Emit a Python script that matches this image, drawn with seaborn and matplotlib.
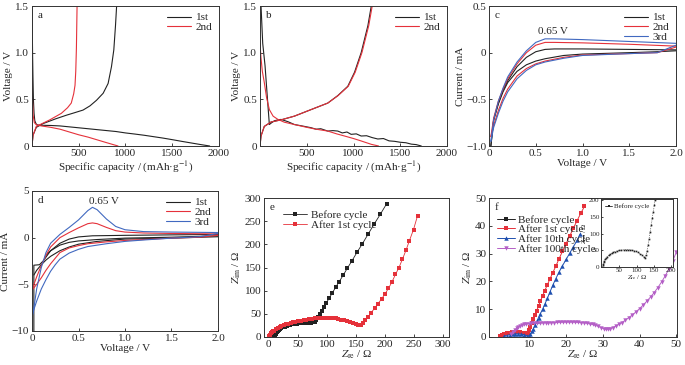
import matplotlib
matplotlib.use("Agg")
import matplotlib.pyplot as plt
from matplotlib.lines import Line2D
import seaborn as sns

# ---- panel a: charge/discharge profiles ----
a_dis1_x = [0, 3, 6, 10, 15, 22, 30, 45, 60, 100, 200, 300, 400, 500, 600, 700, 800, 900, 1000,
            1100, 1200, 1300, 1400, 1500, 1600, 1700, 1800, 1900]
a_dis1_y = [1.5, 1.25, 1.0, 0.75, 0.5, 0.35, 0.27, 0.235, 0.225, 0.222, 0.22, 0.215, 0.205, 0.195,
            0.185, 0.175, 0.165, 0.155, 0.14, 0.128, 0.115, 0.1, 0.085, 0.068, 0.05, 0.033, 0.016, 0.0]
a_chg1_x = [0, 11, 46, 118, 250, 368, 450, 546, 620, 690, 761, 814, 850, 875, 893, 905]
a_chg1_y = [0.0, 0.115, 0.2, 0.24, 0.29, 0.33, 0.355, 0.385, 0.43, 0.49, 0.565, 0.67, 0.85, 1.03, 1.29, 1.5]
a_dis2_x = [0, 5, 12, 25, 50, 100, 200, 300, 400, 500, 600, 700, 800, 920]
a_dis2_y = [0.72, 0.5, 0.33, 0.25, 0.225, 0.215, 0.2, 0.18, 0.15, 0.12, 0.095, 0.065, 0.035, 0.0]
a_chg2_x = [0, 11, 46, 190, 314, 380, 420, 446, 460, 468, 475, 482]
a_chg2_y = [0.0, 0.115, 0.21, 0.28, 0.35, 0.41, 0.46, 0.56, 0.65, 0.8, 1.05, 1.5]

# ---- panel b ----
b_dis1_x = [0, 11, 29, 54, 75, 100, 125, 154, 190, 225, 300, 368, 450, 546, 600, 650, 725, 780,
            832, 880, 930, 975, 1030, 1082, 1140, 1200, 1260, 1320, 1380, 1440, 1500, 1560, 1618, 1670, 1725]
b_dis1_y = [1.5, 1.5, 1.1, 0.86, 0.57, 0.23, 0.25, 0.27, 0.28, 0.285, 0.26, 0.23, 0.215, 0.196, 0.18,
            0.185, 0.16, 0.165, 0.16, 0.14, 0.15, 0.125, 0.13, 0.107, 0.11, 0.09, 0.075, 0.08, 0.055,
            0.05, 0.04, 0.035, 0.02, 0.015, 0.0]
b_dis2_x = [0, 10, 25, 46, 70, 100, 140, 190, 260, 368, 500, 600, 725, 820, 904, 1000, 1082, 1190, 1268]
b_dis2_y = [1.1, 0.95, 0.8, 0.68, 0.52, 0.39, 0.32, 0.286, 0.255, 0.23, 0.2, 0.18, 0.16, 0.13, 0.107,
            0.08, 0.054, 0.018, 0.0]
b_chg1_x = [0, 11, 46, 118, 225, 368, 546, 725, 832, 939, 1011, 1082, 1154, 1190]
b_chg1_y = [0.0, 0.107, 0.21, 0.257, 0.28, 0.32, 0.39, 0.46, 0.54, 0.64, 0.79, 1.0, 1.29, 1.5]
b_chg2_x = [0, 11, 46, 118, 225, 368, 546, 725, 835, 944, 1018, 1090, 1163, 1200]
b_chg2_y = [0.0, 0.107, 0.21, 0.257, 0.28, 0.32, 0.39, 0.46, 0.54, 0.64, 0.79, 1.0, 1.29, 1.5]

# ---- panel c: CV ----
c_v_up = [0.02, 0.05, 0.1, 0.15, 0.2, 0.3, 0.4, 0.5, 0.6, 0.7, 1.0, 1.5, 2.0]
c_v_dn = [2.0, 1.8, 1.5, 1.0, 0.8, 0.6, 0.5, 0.4, 0.3, 0.2, 0.15, 0.1, 0.05, 0.02]
c_1_up = [-1.0, -0.72, -0.54, -0.4, -0.3, -0.15, -0.05, 0.01, 0.035, 0.04, 0.04, 0.035, 0.03]
c_1_dn = [0.02, 0.01, 0.0, -0.015, -0.03, -0.065, -0.09, -0.13, -0.2, -0.32, -0.42, -0.55, -0.72, -1.0]
c_2_up = [-0.9, -0.7, -0.52, -0.39, -0.28, -0.12, 0.0, 0.08, 0.11, 0.11, 0.105, 0.09, 0.07]
c_2_dn = [0.06, 0.0, -0.01, -0.025, -0.05, -0.09, -0.12, -0.17, -0.25, -0.39, -0.49, -0.62, -0.78, -0.9]
c_3_up = [-0.95, -0.72, -0.52, -0.38, -0.26, -0.1, 0.02, 0.11, 0.148, 0.148, 0.14, 0.12, 0.1]
c_3_dn = [0.08, 0.0, -0.01, -0.03, -0.06, -0.1, -0.13, -0.19, -0.28, -0.42, -0.52, -0.65, -0.8, -0.95]

# ---- panel d: CV ----
d_1_up_x = [0.02, 0.02, 0.08, 0.12, 0.2, 0.3, 0.4, 0.5, 0.65, 1.0, 1.5, 2.0]
d_1_up_y = [-10, -2.95, -2.9, -2.5, -1.4, -0.6, -0.15, 0.08, 0.2, 0.25, 0.3, 0.35]
d_1_mid_x = [2.0, 1.5, 1.0, 0.7, 0.5, 0.4, 0.3, 0.2, 0.15]
d_1_mid_y = [0.2, 0.05, -0.05, -0.2, -0.35, -0.5, -0.8, -1.4, -1.9]
d_1_dn_x = [2.0, 1.5, 1.0, 0.7, 0.5, 0.4, 0.3, 0.2, 0.15, 0.1, 0.05, 0.02]
d_1_dn_y = [0.1, -0.05, -0.15, -0.4, -0.7, -1.0, -1.4, -2.0, -2.4, -2.9, -3.5, -4.0]
d_v_up = [0.01, 0.05, 0.1, 0.15, 0.2, 0.3, 0.4, 0.5, 0.6, 0.65, 0.7, 0.8, 0.9, 1.0, 1.2, 1.5, 2.0]
d_v_dn = [2.0, 1.8, 1.5, 1.2, 1.0, 0.8, 0.6, 0.5, 0.4, 0.3, 0.25, 0.2, 0.15, 0.1, 0.05, 0.01]
d_2_up = [-5.3, -4.2, -3.0, -1.9, -1.0, 0.0, 0.55, 1.05, 1.5, 1.58, 1.5, 1.1, 0.75, 0.6, 0.5, 0.45, 0.4]
d_2_dn = [0.25, 0.05, -0.05, -0.2, -0.3, -0.45, -0.65, -0.85, -1.1, -1.6, -2.2, -2.8, -3.5, -4.3, -5.0, -5.5]
d_3_up = [-8.2, -5.5, -3.2, -1.6, -0.6, 0.35, 1.1, 1.9, 2.9, 3.25, 3.0, 2.0, 1.2, 0.85, 0.65, 0.6, 0.55]
d_3_dn = [0.45, 0.1, -0.05, -0.25, -0.4, -0.65, -0.95, -1.25, -1.65, -2.3, -2.9, -3.6, -4.5, -5.5, -6.8, -8.0]

# ---- panel e: EIS ----
e_before_x = [10, 11, 12, 13, 14, 16, 18, 20, 22, 25, 28, 31, 34, 37, 40, 44, 48, 52, 56, 60, 64, 68,
              72, 76, 79, 82, 85, 88, 91, 95, 99, 104, 109, 115, 121, 128, 135, 143, 152, 161, 171,
              181, 192, 203]
e_before_y = [0, 3, 6, 9, 11, 13, 15, 17, 19, 21, 22.5, 24, 25, 26, 27, 28, 29, 29.5, 30, 30.5, 31, 31,
              31, 31.5, 33, 36, 44, 50, 57, 65, 73, 84, 94, 107, 119, 133, 148, 164, 183, 201, 222,
              243, 265, 288]
e_after_x = [0, 2, 4, 6, 8, 10, 13, 16, 19, 22, 26, 30, 34, 38, 42, 46, 50, 55, 60, 65, 70, 75, 80, 85,
             90, 95, 100, 105, 110, 115, 120, 125, 130, 135, 140, 145, 150, 154, 158, 162, 166, 171,
             176, 182, 188, 194, 200, 206, 212, 218, 224, 230, 236, 242, 249, 256]
e_after_y = [2, 5, 8, 10, 12, 14, 17, 19, 21, 23, 25, 27, 29, 30.5, 32, 33, 34, 35.5, 36.5, 37.5, 38.5,
             39.5, 40, 41, 41.5, 42, 42, 41.5, 41, 40, 39, 37.5, 36, 34, 32, 30, 28, 26.5, 26, 30, 36,
             43, 52, 62, 72, 82, 93, 105, 119, 135, 150, 168, 187, 208, 232, 262]

# ---- panel f: EIS after cycling ----
f_1st_x = [2.0, 2.6, 3.2, 3.8, 4.5, 5.2, 6.0, 6.8, 7.5, 8.2, 8.8, 9.3, 9.7, 10.0, 10.3, 10.7, 11.1,
           11.5, 12.0, 12.5, 13.0, 13.6, 14.2, 14.9, 15.6, 16.4, 17.2, 18.0, 19.0, 20.0, 21.0, 22.0,
           23.0, 24.0, 25.0]
f_1st_y = [0.5, 0.8, 1.1, 1.4, 1.6, 1.8, 1.9, 1.9, 1.8, 1.6, 1.3, 1.0, 1.5, 2.6, 3.7, 5.0, 6.4, 7.8,
           9.5, 11.2, 12.9, 14.8, 16.7, 18.8, 20.9, 23.2, 25.5, 27.9, 30.8, 33.6, 36.4, 39.2, 41.9,
           44.5, 47.0]
f_10th_x = [3.0, 3.8, 4.6, 5.4, 6.2, 7.0, 7.8, 8.6, 9.3, 9.9, 10.3, 10.7, 11.1, 11.5, 12.0, 12.5, 13.0,
            13.6, 14.2, 14.9, 15.6, 16.4, 17.2, 18.1, 19.0, 20.0, 21.0, 22.0, 23.0, 23.8]
f_10th_y = [0.2, 0.5, 0.8, 1.0, 1.1, 1.1, 1.0, 0.8, 0.5, 0.4, 1.0, 2.0, 3.0, 4.2, 5.6, 7.0, 8.4, 10.0,
            11.8, 13.9, 16.2, 18.7, 21.0, 23.4, 25.6, 27.9, 30.2, 32.5, 34.8, 37.0]
f_100th_x = [5.0, 5.5, 6.0, 6.5, 7.0, 7.5, 8.0, 8.6, 9.2, 9.8, 10.5, 11.2, 12.0, 12.8, 13.6, 14.4, 15.2,
             16.0, 16.8, 17.6, 18.4, 19.2, 20.0, 20.8, 21.6, 22.4, 23.2, 24.0, 24.8, 25.6, 26.4, 27.2,
             28.0, 28.8, 29.5, 30.2, 30.8, 31.4, 32.0, 32.7, 33.5, 34.3, 35.2, 36.1, 37.0, 38.0, 39.0,
             40.0, 41.0, 42.0, 43.0, 44.0, 45.0, 46.0, 47.0, 48.0, 49.0, 50.0]
f_100th_y = [1.0, 1.8, 2.5, 3.1, 3.6, 4.0, 4.3, 4.5, 4.7, 4.8, 4.9, 4.95, 5.0, 5.0, 5.05, 5.1, 5.1,
             5.15, 5.2, 5.25, 5.3, 5.3, 5.35, 5.35, 5.35, 5.3, 5.25, 5.2, 5.1, 4.95, 4.75, 4.5, 4.2,
             3.8, 3.4, 3.0, 2.8, 2.8, 3.0, 3.4, 3.9, 4.5, 5.2, 6.0, 6.9, 7.9, 9.0, 10.2, 11.5, 12.9,
             14.4, 16.0, 17.8, 19.8, 22.0, 24.5, 27.2, 30.5]
ins_x = [2, 3, 4, 5, 7, 9, 12, 15, 19, 23, 28, 33, 38, 44, 50, 56, 62, 68, 74, 80, 86, 92, 98, 104,
         110, 115, 120, 124, 127, 130, 133, 136, 139, 142, 145, 148, 151, 153]
ins_y = [0, 5, 10, 14, 19, 23, 27, 31, 35, 38, 41, 44, 46, 48, 49.5, 50.5, 51, 51.5, 51.5, 51, 50,
         48.5, 46.5, 44, 40, 36, 31, 28, 35, 48, 65, 85, 105, 125, 145, 165, 185, 200]

cycle_labels = ["1st", "2nd", "3rd"]
eis_labels = ["Before cycle", "After 1st cycle", "After 10th cycle", "After 100th cycle"]

BLACK = "#222222"
RED = "#e5313a"
BLUE = "#4169c0"
DBLUE = "#2050b0"
PURPLE = "#b45fc6"
FS = 8

sns.set_theme(style="ticks")
plt.rcParams["font.family"] = ["Liberation Serif", "DejaVu Serif"]
plt.rcParams["mathtext.fontset"] = "stix"
plt.rcParams["font.size"] = FS
plt.rcParams["axes.labelsize"] = FS
plt.rcParams["legend.fontsize"] = FS
plt.rcParams["axes.linewidth"] = 0.7
plt.rcParams["axes.edgecolor"] = "#333333"
plt.rcParams["xtick.direction"] = "in"
plt.rcParams["ytick.direction"] = "in"
plt.rcParams["xtick.major.size"] = 2.5
plt.rcParams["ytick.major.size"] = 2.5
plt.rcParams["xtick.major.width"] = 0.6
plt.rcParams["ytick.major.width"] = 0.6
plt.rcParams["xtick.major.pad"] = 2
plt.rcParams["ytick.major.pad"] = 2
plt.rcParams["xtick.labelsize"] = FS
plt.rcParams["ytick.labelsize"] = FS

W, H = 685, 365
fig = plt.figure(figsize=(6.85, 3.65), dpi=100)


def box(l, t, r, b):
    # pixel box -> figure fraction
    return [l / W, 1 - b / H, (r - l) / W, (b - t) / H]


def line(ax, x, y, color, label=None, lw=0.8, **kw):
    sns.lineplot(x=x, y=y, sort=False, estimator=None, color=color, lw=lw, ax=ax, label=label, **kw)


def tag(ax, s):
    ax.text(0.03, 0.93, s, transform=ax.transAxes, ha="left", va="center", fontsize=FS)


def cyc_legend(ax):
    ax.legend(loc="upper right", frameon=False, fontsize=FS, handlelength=2.2, labelspacing=0.0,
              handletextpad=0.4, borderaxespad=0.2)


# a
ax = fig.add_axes(box(32, 6, 219, 146))
line(ax, a_dis1_x, a_dis1_y, BLACK, cycle_labels[0])
line(ax, a_chg1_x, a_chg1_y, BLACK)
line(ax, a_dis2_x, a_dis2_y, RED, cycle_labels[1])
line(ax, a_chg2_x, a_chg2_y, RED)
ax.set_xlim(0, 2000)
ax.set_ylim(0, 1.5)
ax.set_xticks([500, 1000, 1500, 2000])
ax.set_yticks([0, 0.5, 1.0, 1.5], ["0", "0.5", "1.0", "1.5"])
ax.set_xlabel("Specific capacity / (mAh·g$^{-1}$)", labelpad=1)
ax.set_ylabel("Voltage / V", labelpad=2)
cyc_legend(ax)
tag(ax, "a")

# b
ax = fig.add_axes(box(260, 6, 447, 146))
line(ax, b_dis1_x, b_dis1_y, BLACK, cycle_labels[0])
line(ax, b_chg1_x, b_chg1_y, BLACK)
line(ax, b_dis2_x, b_dis2_y, RED, cycle_labels[1])
line(ax, b_chg2_x, b_chg2_y, RED)
ax.set_xlim(0, 2000)
ax.set_ylim(0, 1.5)
ax.set_xticks([500, 1000, 1500, 2000])
ax.set_yticks([0, 0.5, 1.0, 1.5], ["0", "0.5", "1.0", "1.5"])
ax.set_xlabel("Specific capacity / (mAh·g$^{-1}$)", labelpad=1)
ax.set_ylabel("Voltage / V", labelpad=2)
cyc_legend(ax)
tag(ax, "b")

# c
ax = fig.add_axes(box(489, 6, 676, 146))
for up, dn, col, lab in [(c_1_up, c_1_dn, BLACK, cycle_labels[0]), (c_2_up, c_2_dn, RED, cycle_labels[1]),
                         (c_3_up, c_3_dn, BLUE, cycle_labels[2])]:
    line(ax, c_v_up, up, col, lab)
    line(ax, c_v_dn, dn, col)
ax.set_xlim(0, 2.0)
ax.set_ylim(-1.0, 0.5)
ax.set_xticks([0, 0.5, 1.0, 1.5, 2.0], ["0", "0.5", "1.0", "1.5", "2.0"])
ax.set_yticks([-1.0, -0.5, 0, 0.5], ["−1.0", "−0.5", "0", "0.5"])
ax.set_xlabel("Voltage / V", labelpad=1)
ax.set_ylabel("Current / mA", labelpad=1)
ax.text(0.68, 0.23, "0.65 V", ha="center", va="center", fontsize=FS)
cyc_legend(ax)
tag(ax, "c")

# d
ax = fig.add_axes(box(32, 191, 218, 331))
line(ax, d_1_up_x, d_1_up_y, BLACK, cycle_labels[0])
line(ax, d_1_mid_x, d_1_mid_y, BLACK)
line(ax, d_1_dn_x, d_1_dn_y, BLACK)
line(ax, d_v_up, d_2_up, RED, cycle_labels[1])
line(ax, d_v_dn, d_2_dn, RED)
line(ax, d_v_up, d_3_up, BLUE, cycle_labels[2])
line(ax, d_v_dn, d_3_dn, BLUE)
ax.set_xlim(0, 2.0)
ax.set_ylim(-10, 5)
ax.set_xticks([0, 0.5, 1.0, 1.5, 2.0], ["0", "0.5", "1.0", "1.5", "2.0"])
ax.set_yticks([-10, -5, 0, 5], ["−10", "−5", "0", "5"])
ax.set_xlabel("Voltage / V", labelpad=1)
ax.set_ylabel("Current / mA", labelpad=1)
ax.text(0.77, 3.9, "0.65 V", ha="center", va="center", fontsize=FS)
cyc_legend(ax)
tag(ax, "d")

# e
ax = fig.add_axes(box(264, 198, 449, 337))
line(ax, e_before_x, e_before_y, BLACK, eis_labels[0], lw=0.6, marker="s", markersize=2.6,
     markeredgewidth=0)
line(ax, e_after_x, e_after_y, RED, eis_labels[1], lw=0.6, marker="s", markersize=2.6,
     markeredgewidth=0)
ax.set_xlim(-8, 310)
ax.set_ylim(0, 300)
ax.set_xticks([0, 50, 100, 150, 200, 250, 300])
ax.set_yticks([0, 50, 100, 150, 200, 250, 300])
ax.set_xlabel(r"$Z_{\mathrm{re}}$ / Ω", labelpad=0)
ax.set_ylabel(r"$Z_{\mathrm{im}}$ / Ω", labelpad=1)
ax.legend(loc="upper left", frameon=False, fontsize=FS, handlelength=2.2, labelspacing=0.0,
          handletextpad=0.3, borderaxespad=0.3, bbox_to_anchor=(0.06, 0.97))
tag(ax, "e")

# f
ax = fig.add_axes(box(489, 198, 677, 337))
line(ax, f_1st_x, f_1st_y, RED, lw=0.7, marker="s", markersize=2.6, markeredgewidth=0)
line(ax, f_10th_x, f_10th_y, DBLUE, lw=0.7, marker="^", markersize=3.2, markeredgewidth=0)
line(ax, f_100th_x, f_100th_y, PURPLE, lw=0.7, marker="v", markersize=3.2, markeredgewidth=0)
ax.set_xlim(-1, 50.2)
ax.set_ylim(0, 50)
ax.set_xticks([10, 20, 30, 40, 50])
ax.set_yticks([0, 10, 20, 30, 40, 50])
ax.set_xlabel(r"$Z_{\mathrm{re}}$ / Ω", labelpad=0)
ax.set_ylabel(r"$Z_{\mathrm{im}}$ / Ω", labelpad=1)
handles = [Line2D([], [], color=BLACK, lw=0.7, marker="s", markersize=2.6, markeredgewidth=0),
           Line2D([], [], color=RED, lw=0.7, marker="s", markersize=2.6, markeredgewidth=0),
           Line2D([], [], color=DBLUE, lw=0.7, marker="^", markersize=3.2, markeredgewidth=0),
           Line2D([], [], color=PURPLE, lw=0.7, marker="v", markersize=3.2, markeredgewidth=0)]
ax.legend(handles, eis_labels, loc="upper left", frameon=False, fontsize=FS, handlelength=1.6,
          labelspacing=0.0, handletextpad=0.3, borderaxespad=0.3, bbox_to_anchor=(0.0, 0.935))
tag(ax, "f")

# inset of f
ax = fig.add_axes(box(601, 199, 673, 267))
line(ax, ins_x, ins_y, BLACK, lw=0.5, marker="s", markersize=1.2, markeredgewidth=0, linestyle=":")
ax.set_xlim(-3, 205)
ax.set_ylim(0, 203)
ax.set_xticks([50, 100, 150, 200])
ax.set_yticks([0, 50, 100, 150, 200])
ax.tick_params(labelsize=5, length=1.5, pad=1)
ax.set_xlabel(r"$Z_{\mathrm{re}}$ / Ω", fontsize=5, labelpad=0)
ax.set_ylabel(r"$Z_{\mathrm{im}}$ / Ω", fontsize=5, labelpad=0)
ax.legend([Line2D([], [], color=BLACK, lw=0.6, marker="s", markersize=2, markeredgewidth=0)],
          [eis_labels[0]], loc="upper left", frameon=False, fontsize=5, handlelength=1.0,
          handletextpad=0.2, borderaxespad=0.2)

fig.savefig("out.png", dpi=100)
